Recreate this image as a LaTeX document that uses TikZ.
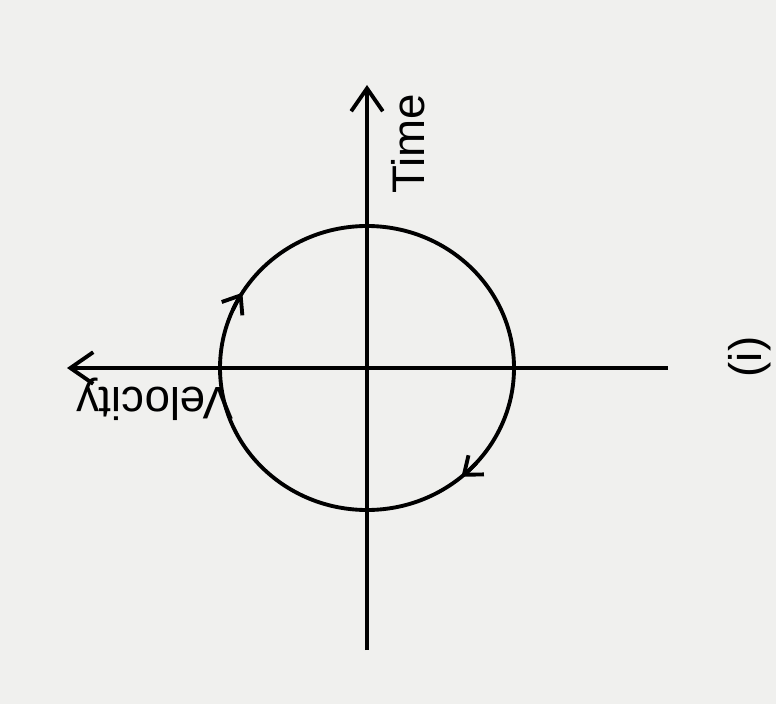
\documentclass[tikz,border=0pt]{standalone}
\usepackage{fontspec}
\setmainfont{Liberation Sans}
\usetikzlibrary{arrows.meta,calc}

\definecolor{paper}{RGB}{240,240,238}
\tikzstyle{axis} = [line width=2.2pt, -{Straight Barb[length=13pt, width=18pt, line width=2.2pt]}]
\tikzstyle{loop} = [line width=2.2pt]
\tikzstyle{turn} = [line width=2.2pt, -{Straight Barb[length=9pt, width=14pt, line width=2.2pt]}]
\tikzstyle{lbl} = [inner sep=0pt, font=\fontsize{26}{30}\selectfont]

\begin{document}
\begin{tikzpicture}[x=0.02cm, y=0.02cm]
%papier
\fill[paper] (0,0) rectangle (776,704);
\useasboundingbox (0,0) rectangle (776,704);
%begin assen
\coordinate (O) at (367,336);
\coordinate (top) at (367,619);
\coordinate (bottom) at (367,54);
\coordinate (left) at (67,336);
\coordinate (right) at (668,336);
\draw[axis] (bottom) -- (top);
\draw[axis] (right) -- (left);
%end assen
%begin cirkel
\draw[loop] (O) ellipse [x radius=147, y radius=142];
\coordinate (turnA) at ($(O)+(156:147 and 142)$);
\coordinate (turnB) at ($(O)+(-42:147 and 142)$);
\draw[turn] (turnA) arc[start angle=156, end angle=148, x radius=147, y radius=142];
\draw[turn] (turnB) arc[start angle=-42, end angle=-50, x radius=147, y radius=142];
%end cirkel
%begin labels
\node[lbl, rotate=90] (time) at (408,560) {Time};
\node[lbl, rotate=180] (velocity) at (155,305) {Velocity};
\node[lbl, rotate=90] (num) at (750,347) {(i)};
%end labels
\end{tikzpicture}
\end{document}
